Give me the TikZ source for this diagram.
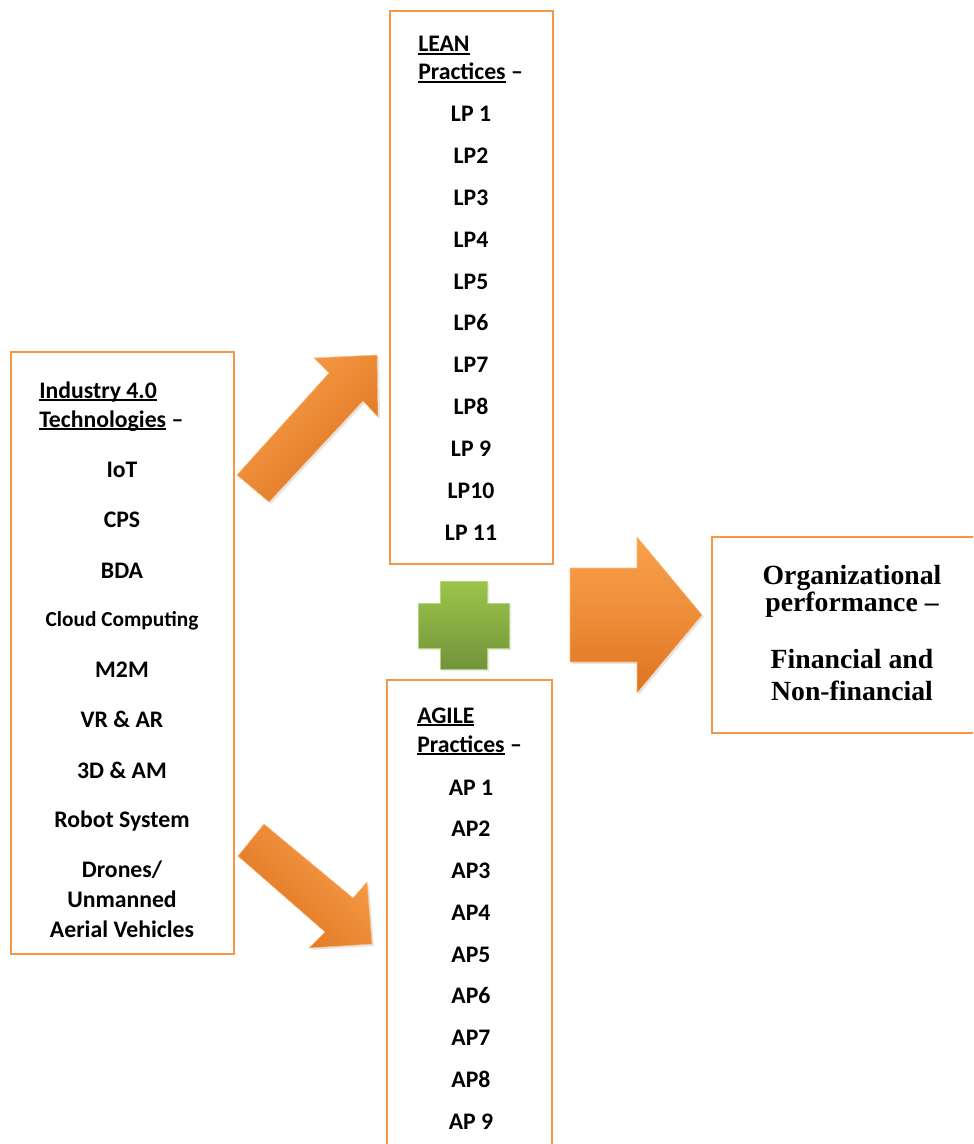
\documentclass[tikz,border=0pt]{standalone}
\usepackage{fontspec}
\setmainfont{Carlito}
\newfontfamily\perffont{Liberation Serif}
\newsavebox{\headbox}
\newcommand{\headul}[1]{\sbox{\headbox}{#1}\rlap{\rule[-2.4pt]{\wd\headbox}{1.3pt}}\usebox{\headbox}}
\usepackage{xcolor}
\definecolor{boxOrange}{HTML}{F79646}
\definecolor{arrowLight}{HTML}{FA9F4A}
\definecolor{arrowDark}{HTML}{DC7320}
\definecolor{plusLight}{HTML}{9CC54B}
\definecolor{plusDark}{HTML}{73933A}
\definecolor{plusEdge}{HTML}{B5D57C}
\usepackage{tikz}
\usetikzlibrary{fit,shadows}

\begin{document}
\begin{tikzpicture}[x=0.75pt, y=-0.75pt,
  every node/.style={font=\fontsize{17.8}{21}\selectfont\bfseries},
  box/.style={draw=boxOrange, line width=2.2pt, inner sep=0pt},
  head/.style={anchor=base west, inner sep=0pt},
  item/.style={anchor=base, inner sep=0pt},
  perf/.style={anchor=base, inner sep=0pt, font=\fontsize{20.8}{24}\selectfont\perffont\bfseries},
  blockarrow/.style={draw=arrowLight!70!white, line width=0.4pt,
    drop shadow={opacity=0.2, shadow xshift=1.5pt, shadow yshift=-1.5pt}}]
  \clip (0,0) rectangle (973,1144);

  % Industry 4.0 box
  \node[box, fit={(11,352) (234,954)}] (tech) {};
  \node[head] (techhead) at (39,398) {\headul{Industry 4.0}};
  \node[head] (techsub) at (39,427) {\headul{Technologies} \textendash};
  \foreach \yy/\txt [count=\i] in {477/IoT, 527/CPS, 578/BDA,
      626/{\fontsize{16}{19}\selectfont Cloud Computing}, 677/M2M, 727/VR \& AR,
      778/3D \& AM, 827/Robot System, 877/{Drones/}, 907/Unmanned, 937/Aerial Vehicles}
    \node[item] (tech\i) at (122,\yy) {\txt};

  % LEAN box
  \node[box, fit={(390,11) (553,564)}] (lean) {};
  \node[head] (leanhead) at (418,52) {\headul{LEAN}};
  \node[head] (leansub) at (418,80) {\headul{Practices} \textendash};
  \foreach \txt [count=\i from 0] in {LP 1, LP2, LP3, LP4, LP5, LP6, LP7, LP8, LP 9, LP10, LP 11}
    \node[item] (lp\i) at (471,122+41.8*\i) {\txt};

  % AGILE box
  \node[box, fit={(387,680) (552,1170)}] (agile) {};
  \node[head] (agilehead) at (417,723) {\headul{AGILE}};
  \node[head] (agilesub) at (417,752) {\headul{Practices} \textendash};
  \foreach \txt [count=\i from 0] in {AP 1, AP2, AP3, AP4, AP5, AP6, AP7, AP8, AP 9}
    \node[item] (ap\i) at (471,795+41.75*\i) {\txt};

  % Performance box
  \node[box, fit={(712,537) (1000,733)}] (perf) {};
  \foreach \yy/\txt [count=\i] in {584/Organizational, 611/performance \textendash,
      668/Financial and, 700/Non-financial}
    \node[perf] (perf\i) at (852,\yy) {\txt};

  % block arrows
  \path[blockarrow, top color=arrowLight, bottom color=arrowDark, shading angle=45]
    (237,475) -- (329,373) -- (314,358) -- (377,355) -- (378,417) -- (363,401) -- (269,502) -- cycle;
  \path[blockarrow, top color=arrowLight, bottom color=arrowDark, shading angle=-45]
    (264,824) -- (353,898) -- (367,882) -- (372,944) -- (309,948) -- (325,932) -- (238,856) -- cycle;
  \path[blockarrow, top color=arrowLight, bottom color=arrowDark, middle color=arrowLight!60!arrowDark]
    (570,568) -- (637,568) -- (637,537) -- (702,615) -- (637,693) -- (637,662) -- (570,662) -- cycle;

  % plus sign
  \path[draw=plusEdge, line width=0.6pt, top color=plusLight, bottom color=plusDark,
        drop shadow={opacity=0.2, shadow xshift=1.5pt, shadow yshift=-1.5pt}]
    (440,581) -- (487,581) -- (487,603) -- (509,603) -- (509,648) -- (487,648) -- (487,669)
    -- (440,669) -- (440,648) -- (418,648) -- (418,603) -- (440,603) -- cycle;
\end{tikzpicture}
\end{document}
